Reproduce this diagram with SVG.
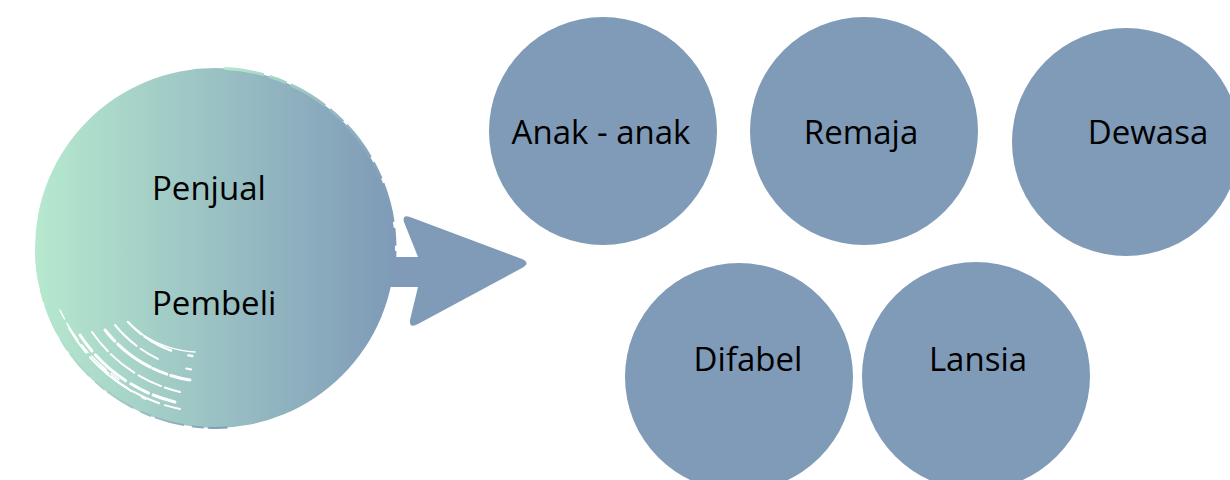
<svg xmlns="http://www.w3.org/2000/svg" width="1230" height="480" viewBox="0 0 1230 480">
<style>
.c{fill:#7f9bb8}
.t{font-family:"Open Sans","Noto Sans",sans-serif;font-size:33px;fill:#000}
.m{text-anchor:middle}
.w{fill:none;stroke:#fff;stroke-linecap:round}
</style>
<defs>
<linearGradient id="g" x1="0" y1="0" x2="1" y2="0">
<stop offset="0" stop-color="#b6e9ce"/>
<stop offset="1" stop-color="#7e9ab8"/>
</linearGradient>
</defs>
<g id="connectors">
<path class="c" d="M390 257 L418 257 L404 222 Q402 214 410 217 L522 259 Q531 263 522 268 L418 324 Q409 329 410 320 L418 287 L390 287 Z"/>
</g>
<g id="source">
<circle cx="215" cy="248" r="180" fill="url(#g)"/>
<path d="M215 68 A180 180 0 0 1 395 248" fill="none" stroke="url(#g)" stroke-width="3" stroke-dasharray="40 6 18 5" transform="rotate(3 215 248)"/>
<path d="M36 240 A180 180 0 0 0 215 428" fill="none" stroke="url(#g)" stroke-width="2" stroke-dasharray="30 8 12 4" transform="rotate(-4 215 248)"/>
<g class="w">
<path d="M69 328 A165 165 0 0 0 180 409" stroke-width="2" stroke-dasharray="30 6 50 4"/>
<path d="M80 335 A158 158 0 0 0 175 402" stroke-width="3" stroke-dasharray="20 5 40 6"/>
<path d="M92 332 A148 148 0 0 0 180 392" stroke-width="2" stroke-dasharray="25 4 30 5"/>
<path d="M105 330 A135 135 0 0 0 190 380" stroke-width="3" stroke-dasharray="15 4 40 3"/>
<path d="M115 325 A125 125 0 0 0 195 370" stroke-width="2" stroke-dasharray="30 5 20"/>
<path d="M128 322 A112 112 0 0 0 200 357" stroke-width="2.5" stroke-dasharray="18 4 30"/>
<path d="M140 333 A110 110 0 0 0 195 352" stroke-width="1.5"/>
<path d="M60 310 A172 172 0 0 0 120 380" stroke-width="1.5" stroke-dasharray="10 5 20 6"/>
<path d="M100 365 A150 150 0 0 0 160 405" stroke-width="2" stroke-dasharray="12 4 25"/>
</g>
<text class="t" x="152" y="200">Penjual</text>
<text class="t" x="152" y="315">Pembeli</text>
</g>
<g id="anak"><circle class="c" cx="603" cy="131" r="114"/><text class="t m" x="601" y="144">Anak - anak</text></g>
<g id="remaja"><circle class="c" cx="864" cy="131" r="114"/><text class="t m" x="861" y="144">Remaja</text></g>
<g id="dewasa"><circle class="c" cx="1126" cy="142" r="114"/><text class="t m" x="1148" y="144">Dewasa</text></g>
<g id="difabel"><circle class="c" cx="739" cy="377" r="114"/><text class="t m" x="748" y="371">Difabel</text></g>
<g id="lansia"><circle class="c" cx="976" cy="376" r="114"/><text class="t m" x="978" y="371">Lansia</text></g>
</svg>
